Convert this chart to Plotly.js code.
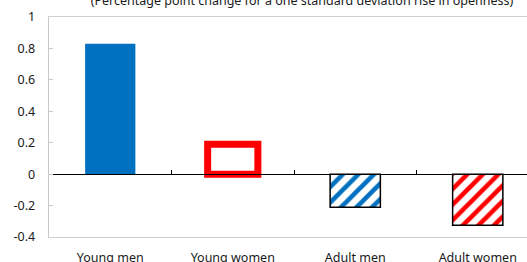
<!DOCTYPE html>
<html>
<head>
<meta charset="utf-8">
<script src="https://cdn.plot.ly/plotly-3.0.1.min.js"></script>
<style>html,body{margin:0;padding:0;background:#fff;}#chart{width:527px;height:262px;}</style>
</head>
<body>
<div id="chart"></div>
<script>
const categories = ["Young men", "Young women", "Adult men", "Adult women"];
const values = [0.83, 0.19, -0.21, -0.325];
const fillColors = ["#0070C0", "#FFFFFF", "#0070C0", "#FF0000"];
const outlineColors = ["#0070C0", "#FF0000", "#000000", "#000000"];
const outlineWidths = [0, 7, 1.5, 1.5];
const patternShapes = ["", "", "/", "/"];
const yTickVals = [-0.4, -0.2, 0, 0.2, 0.4, 0.6, 0.8, 1];
const yTickLabels = ["-0.4", "-0.2", "0", "0.2", "0.4", "0.6", "0.8", "1"];
const titleText = "(Percentage point change for a one standard deviation rise in openness)";

const font = "'Noto Sans', 'Open Sans', sans-serif";
const boundaries = categories.slice(1).map((c, i) => i + 0.5);

const trace = {
  type: "bar",
  x: categories.map((c, i) => i),
  y: values,
  width: 0.41,
  marker: {
    color: fillColors,
    line: { color: outlineColors, width: outlineWidths },
    pattern: { shape: patternShapes, fgcolor: fillColors, bgcolor: "#FFFFFF", size: 11, solidity: 0.42, fillmode: "replace" }
  },
  hoverinfo: "none"
};

const xRange = [-0.5, 3.402];

const layout = {
  width: 527, height: 262,
  margin: { l: 49, r: 0, t: 17, b: 25 },
  paper_bgcolor: "#fff", plot_bgcolor: "#fff",
  showlegend: false,
  font: { family: font, size: 12.5, color: "#1a1a1a" },
  title: { text: titleText, font: { family: font, size: 12.5, color: "#1a1a1a" }, x: 0.573, xref: "container", xanchor: "center", y: 0.997, yref: "container", yanchor: "middle" },
  xaxis: {
    type: "linear", range: xRange,
    tickvals: categories.map((c, i) => i), ticktext: categories,
    ticks: "", showgrid: false, zeroline: false,
    showline: true, mirror: true, linecolor: "#d0d0d0", linewidth: 1.3,
    ticklabelstandoff: 9,
    tickfont: { family: font, size: 12.5, color: "#1a1a1a" }
  },
  xaxis2: {
    type: "linear", range: xRange, overlaying: "x", anchor: "free", position: 0.4 / 1.4,
    tickvals: boundaries, ticks: "inside", ticklen: 4, tickcolor: "#000", tickwidth: 1,
    showticklabels: false, showgrid: false, zeroline: false,
    showline: true, linecolor: "#000", linewidth: 1.3
  },
  yaxis: {
    range: [-0.4, 1], tickvals: yTickVals, ticktext: yTickLabels,
    ticks: "inside", ticklen: 4, tickcolor: "#c8c8c8",
    showgrid: false, zeroline: false,
    showline: true, linecolor: "#c8c8c8", linewidth: 1.3,
    ticklabelstandoff: 10,
    tickfont: { family: font, size: 12.5, color: "#1a1a1a" }
  }
};

const dummy = { type: "scatter", x: [], y: [], xaxis: "x2", hoverinfo: "none" };

Plotly.newPlot("chart", [trace, dummy], layout, { staticPlot: true, displayModeBar: false });
</script>
</body>
</html>
